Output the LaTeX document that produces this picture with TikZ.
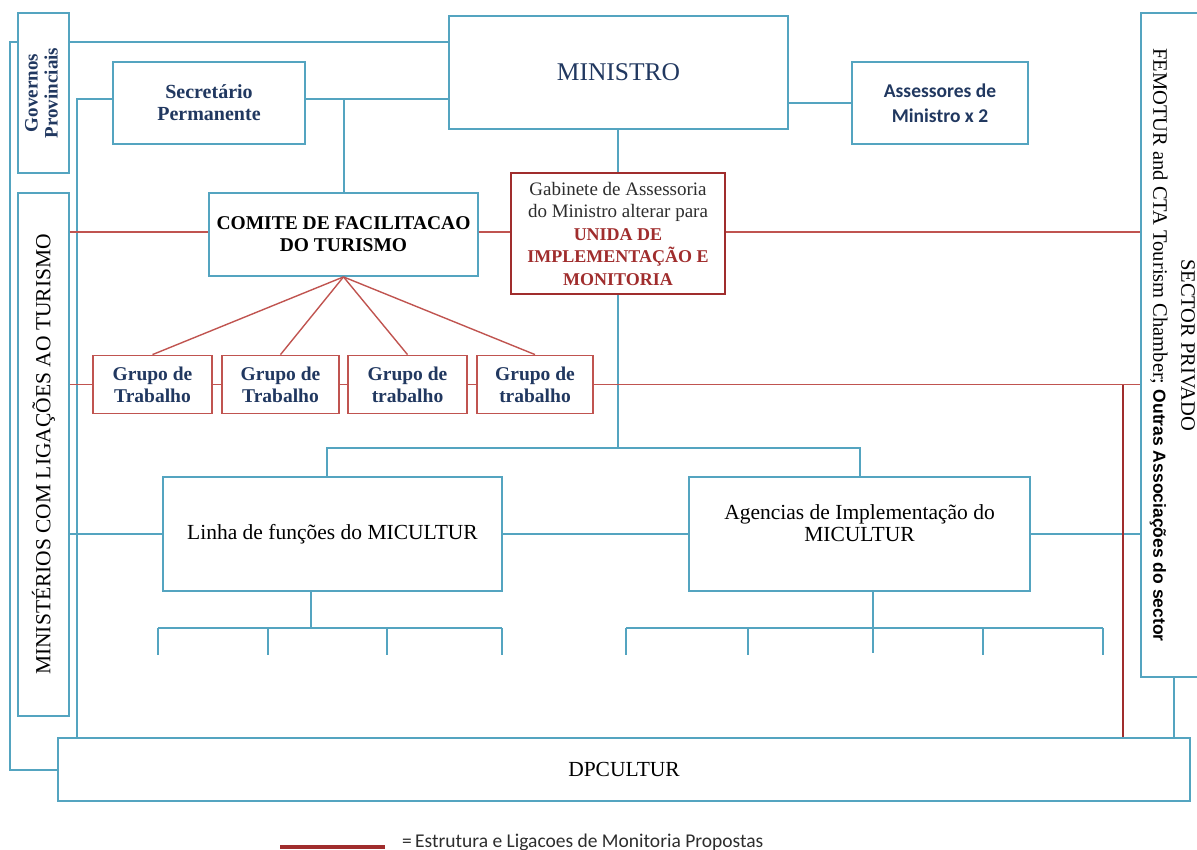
\documentclass[tikz,border=0pt]{standalone}
\usepackage{fontspec}
\setmainfont{Liberation Serif}
\newfontfamily\sansf{Carlito}
\newfontfamily\arialf{Liberation Sans}
\definecolor{bl}{RGB}{84,164,192}
\definecolor{rd}{RGB}{192,84,80}
\definecolor{drd}{RGB}{160,45,45}
\definecolor{navy}{RGB}{33,56,96}
\definecolor{gtxt}{RGB}{45,45,45}
\newcommand\fs[2]{\fontsize{#1}{#2}\selectfont}
\begin{document}
\begin{tikzpicture}[x=1pt,y=-1pt,
  bbox/.style={draw=bl, line width=1.8pt, inner sep=0pt, align=center, fill=white},
  rbox/.style={draw=rd, line width=1.8pt, inner sep=0pt, align=center, fill=white},
  gbox/.style={draw=drd, line width=2.2pt, inner sep=0pt, align=center, fill=white},
  bline/.style={draw=bl, line width=1.8pt},
  rline/.style={draw=rd, line width=1.4pt},
  dline/.style={draw=drd, line width=2.2pt},
  grp/.style={rbox, minimum width=#1, minimum height=58, font=\fs{19.5}{22}\bfseries, text=navy}]
\useasboundingbox (0,0) rectangle (1197,850);
\clip (0,0) rectangle (1197,850);

% ---------- boxes ----------
\node[bbox, minimum width=51, minimum height=160, text=navy] (gov) at (43.5,93)
  {\rotatebox{90}{\fs{19}{20}\bfseries\begin{tabular}{@{}c@{}}Governos\\Provinciais\end{tabular}}};
\node[bbox, minimum width=51, minimum height=523] (min) at (43.5,454.5)
  {\rotatebox{90}{\fs{21.5}{24}MINISTÉRIOS COM LIGAÇÕES AO TURISMO}};
\node[bbox, minimum width=192, minimum height=82, font=\fs{20}{22}\bfseries, text=navy] (sec) at (209,103)
  {Secretário\\Permanente};
\node[bbox, minimum width=339, minimum height=113, font=\fs{25.5}{28}, text=navy] (ministro) at (618.5,72.5) {MINISTRO};
\node[bbox, minimum width=176, minimum height=82, font=\sansf\fs{19.5}{25}\bfseries, text=navy] (asse) at (940,103)
  {Assessores de\\Ministro x 2};
\node[bbox, minimum width=64, minimum height=664] (sector) at (1173,345)
  {\rotatebox{-90}{\fs{20.5}{28}\begin{tabular}{@{}c@{}}SECTOR PRIVADO\\FEMOTUR and CTA Tourism Chamber; {\arialf\fs{17.5}{28}\bfseries Outras Associações do sector}\end{tabular}}};
\node[bbox, minimum width=269, minimum height=83, font=\fs{19.5}{22}\bfseries] (comite) at (343.5,234.5)
  {COMITE DE FACILITACAO\\DO TURISMO};
\node[gbox, minimum width=214, minimum height=121, font=\fs{19}{22.5}, text=gtxt] (gab) at (618,233.5)
  {Gabinete de Assessoria\\do Ministro alterar para\\{\color{drd}\bfseries\fs{18}{22.5}UNIDA DE}\\{\color{drd}\bfseries\fs{18}{22.5}IMPLEMENTAÇÃO E}\\{\color{drd}\bfseries\fs{18}{22.5}MONITORIA}};
\node[grp=119] (g1) at (152.5,384.5) {Grupo de\\Trabalho};
\node[grp=117] (g2) at (280.5,384.5) {Grupo de\\Trabalho};
\node[grp=119] (g3) at (407.5,384.5) {Grupo de\\trabalho};
\node[grp=116] (g4) at (535,384.5) {Grupo de\\trabalho};
\node[bbox, minimum width=339, minimum height=114, font=\fs{21.5}{22}] (linha) at (332.5,534)
  {Linha de funções do MICULTUR};
\node[bbox, minimum width=341, minimum height=114, font=\fs{21.5}{22}] (agen) at (859.5,534)
  {Agencias de Implementação do\\MICULTUR\\\mbox{}};
\node[bbox, minimum width=1132, minimum height=63, font=\fs{21.5}{24}] (dp) at (624,769.5) {DPCULTUR};

% ---------- blue connectors ----------
\coordinate (o1) at (10,42);
\coordinate (o2) at (10,770);
\draw[bline] (gov.west |- o1) -- (o1) -- (o2) -- (dp.west |- o2);
\draw[bline] (gov.east |- o1) -- (ministro.west |- o1);
\coordinate (i1) at (77,99);
\draw[bline] (sec.west |- i1) -- (i1) -- (i1 |- dp.north);
\draw[bline] (sec.east |- i1) -- (ministro.west |- i1);
\coordinate (s1) at (344,99);
\draw[bline] (s1) -- (s1 |- comite.north);
\draw[bline] (ministro.east |- asse.west) -- (asse.west);
\draw[bline] (gab.north |- ministro.south) -- (gab.north);
\coordinate (h1) at (618,448);
\draw[bline] (gab.south) -- (h1);
\coordinate (hL) at (327,448);
\coordinate (hR) at (860,448);
\draw[bline] (hL |- linha.north) -- (hL) -- (hR) -- (hR |- agen.north);
\draw[bline] (min.east |- linha.west) -- (linha.west);
\draw[bline] (linha.east) -- (agen.west);
\draw[bline] (agen.east) -- (sector.west |- agen.east);
% sub-branches under Linha
\coordinate (tl) at (311,628);
\draw[bline] (linha.south -| tl) -- (tl);
\coordinate (la) at (158,628); \coordinate (lb) at (268,628);
\coordinate (lc) at (387,628); \coordinate (ld) at (502,628);
\draw[bline] (la) -- (ld);
\foreach \c in {la,lb,lc,ld} \draw[bline] (\c) -- ++(0,27);
% sub-branches under Agencias
\coordinate (ta) at (873,628);
\draw[bline] (agen.south -| ta) -- ([yshift=-25pt]ta);
\coordinate (aa) at (626,628); \coordinate (ab) at (748,628);
\coordinate (ac) at (983,628); \coordinate (ad) at (1103,628);
\draw[bline] (aa) -- (ad);
\foreach \c in {aa,ab,ac,ad} \draw[bline] (\c) -- ++(0,27);
% sector to DPCULTUR
\coordinate (sx) at (1174,700);
\draw[bline] (sector.south -| sx) -- (sx |- dp.north);

% ---------- red connectors ----------
\coordinate (r1) at (0,232);
\draw[rline] (min.east |- r1) -- (comite.west |- r1);
\draw[rline] (comite.east |- r1) -- (gab.west |- r1);
\draw[rline] (gab.east |- r1) -- (sector.west |- r1);
\draw[rline] (min.east |- g1.west) -- (g1.west);
\draw[rline] (g1.east) -- (g2.west);
\draw[rline] (g2.east) -- (g3.west);
\draw[rline] (g3.east) -- (g4.west);
\draw[rline] (g4.east) -- (sector.west |- g4.east);
\foreach \g in {g1,g2,g3,g4} \draw[rline] (comite.south) -- (\g.north);
\coordinate (v1) at (1123,384.5);
\draw[dline] (v1) -- (v1 |- dp.north);

% ---------- legend ----------
\coordinate (k1) at (280,847);
\coordinate (k2) at (385,847);
\draw[drd, line width=4pt] (k1) -- (k2);
\node[anchor=west, inner sep=0pt, font=\sansf\fs{19.5}{22}, text=gtxt] (leg) at (402,842)
  {=\,Estrutura e Ligacoes de Monitoria Propostas};
\end{tikzpicture}
\end{document}
